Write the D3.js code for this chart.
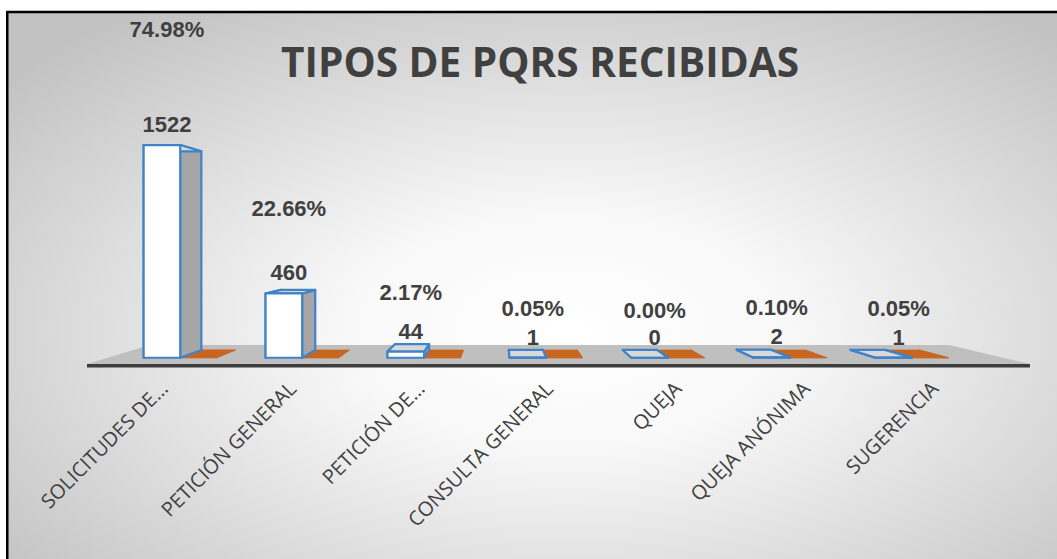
<!DOCTYPE html>
<html>
<head>
<meta charset="utf-8">
<script src="https://cdn.jsdelivr.net/npm/d3@7"></script>
<style>
  body { margin: 0; background: #fff; }
  svg { display: block; }
</style>
</head>
<body>
<div id="chart"></div>
<script>
// data
const categories = ["SOLICITUDES DE…", "PETICIÓN GENERAL", "PETICIÓN DE…", "CONSULTA GENERAL", "QUEJA", "QUEJA ANÓNIMA", "SUGERENCIA"];
const counts = [1522, 460, 44, 1, 0, 2, 1];
const percents = [74.98, 22.66, 2.17, 0.05, 0.00, 0.10, 0.05];
const chartTitle = "TIPOS DE PQRS RECIBIDAS";

const width = 1057, height = 559;

const svg = d3.select("#chart").append("svg")
    .attr("width", width)
    .attr("height", height);

// radial background
const defs = svg.append("defs");
const grad = defs.append("radialGradient")
    .attr("id", "bg")
    .attr("cx", "52%").attr("cy", "55%").attr("r", "68%");
grad.append("stop").attr("offset", "0%").attr("stop-color", "#ffffff");
grad.append("stop").attr("offset", "30%").attr("stop-color", "#f8f8f8");
grad.append("stop").attr("offset", "100%").attr("stop-color", "#c2c2c2");

svg.append("rect")
    .attr("x", 7.25).attr("y", 12)
    .attr("width", width + 20).attr("height", height + 20)
    .attr("fill", "url(#bg)")
    .attr("stroke", "#000")
    .attr("stroke-width", 2.5);

// simple perspective: everything shrinks towards vp as depth z grows
const vp = [500, 240], shrink = 0.153;
function proj(x, y, z) {
    const f = 1 - shrink * z;
    return [vp[0] + (x - vp[0]) * f, vp[1] + (y - vp[1]) * f];
}
const poly = pts => "M" + pts.map(p => p.join(",")).join("L") + "Z";

const floorY = 364;
const x = d3.scaleBand().domain(categories).range([99, 998]);
const y = d3.scaleLinear().domain([0, 1600]).range([floorY, 128.5]);
const barW = x.bandwidth() * 0.3;
const zFront = 0.33, zBack = 0.74;

// floor
const fx0 = 87, fx1 = 1030;
svg.append("path")
    .attr("d", poly([proj(fx0, floorY, 0), proj(fx1, floorY, 0), proj(fx1, floorY, 1), proj(fx0, floorY, 1)]))
    .attr("fill", "#bfbfbf");
svg.append("rect")
    .attr("x", fx0).attr("y", floorY)
    .attr("width", fx1 - fx0).attr("height", 3.5)
    .attr("fill", "#3d3d3d");

function box(g, x0, x1, yTop, style) {
    const yBot = floorY;
    const faces = [
        { pts: [proj(x0, yTop, zFront), proj(x0, yTop, zBack), proj(x0, yBot, zBack), proj(x0, yBot, zFront)], fill: style.side },
        { pts: [proj(x1, yTop, zFront), proj(x1, yTop, zBack), proj(x1, yBot, zBack), proj(x1, yBot, zFront)], fill: style.side },
        { pts: [proj(x0, yTop, zFront), proj(x1, yTop, zFront), proj(x1, yTop, zBack), proj(x0, yTop, zBack)], fill: style.top },
        { pts: [proj(x0, yTop, zFront), proj(x1, yTop, zFront), proj(x1, yBot, zFront), proj(x0, yBot, zFront)], fill: style.front }
    ];
    g.selectAll(null).data(faces).join("path")
        .attr("d", d => poly(d.pts))
        .attr("fill", d => d.fill)
        .attr("stroke", style.stroke)
        .attr("stroke-width", style.strokeWidth)
        .attr("stroke-linejoin", "round");
}

const bars = svg.append("g");
categories.forEach(function (c, i) {
    const cx = x(c) + x.bandwidth() / 2;
    const g = bars.append("g");
    // percentage series (as fraction) -> flat orange bar
    box(g, cx, cx + barW, y(percents[i] / 100), { side: "#c8651f", top: "#c8651f", front: "#c8651f", stroke: "#c8651f", strokeWidth: 0.6 });
    // count series
    box(g, cx - barW, cx, y(counts[i]), { side: "#a6a6a6", top: "#d9d9d9", front: "#ffffff", stroke: "#3f83c9", strokeWidth: 2.2 });
});

// data labels
const labelFont = "'Liberation Sans', Arial, sans-serif";
const labels = svg.append("g")
    .attr("font-family", labelFont)
    .attr("font-weight", "bold")
    .attr("font-size", 22)
    .attr("fill", "#404040")
    .attr("text-anchor", "middle");

categories.forEach(function (c, i) {
    const cx = x(c) + x.bandwidth() / 2;
    const top = proj(cx - barW / 2, y(counts[i]), zFront);
    const ly = top[1] - 13;
    const lx = top[0] + 5;
    labels.append("text").attr("x", lx).attr("y", ly).text(counts[i]);
    labels.append("text").attr("x", lx).attr("y", ly - 27 - 1.75 * Math.sqrt(counts[i]))
        .text(percents[i].toFixed(2) + "%");
});

// category labels
svg.append("g")
    .selectAll("text")
    .data(categories)
    .join("text")
    .attr("transform", d => `translate(${x(d) + x.bandwidth() / 2 + 6},390) rotate(-45)`)
    .attr("text-anchor", "end")
    .attr("font-family", "'Open Sans', sans-serif")
    .attr("font-size", 20)
    .attr("fill", "#404040")
    .text(d => d);

// title
svg.append("text")
    .attr("x", 540).attr("y", 77)
    .attr("text-anchor", "middle")
    .attr("font-family", "'Open Sans', sans-serif")
    .attr("font-weight", "bold")
    .attr("font-size", 41)
    .attr("fill", "#404040")
    .attr("textLength", 518)
    .attr("lengthAdjust", "spacingAndGlyphs")
    .text(chartTitle);
</script>
</body>
</html>
